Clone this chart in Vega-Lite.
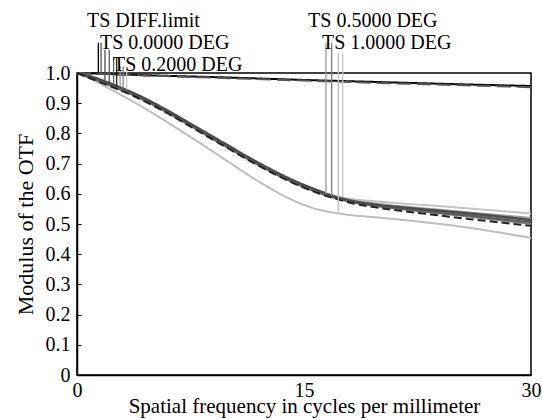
{
  "$schema": "https://vega.github.io/schema/vega-lite/v6.json",
  "width": 454,
  "height": 302,
  "autosize": "none",
  "padding": {"left": 77, "top": 73, "right": 11, "bottom": 44},
  "background": "white",
  "config": {
    "font": "Liberation Serif",
    "view": {"stroke": "#000", "strokeWidth": 1.5},
    "axis": {
      "grid": false,
      "domainColor": "#000",
      "domainWidth": 1.5,
      "labelFont": "Liberation Serif",
      "labelFontSize": 20,
      "labelColor": "#000",
      "titleFont": "Liberation Serif",
      "titleFontSize": 20,
      "titleFontWeight": "normal",
      "titleColor": "#000",
      "tickColor": "#000"
    }
  },
  "datasets": {
    "curves": [
      {"series": "diffT", "x": 0, "y": 1.0}, {"series": "diffT", "x": 5, "y": 0.992}, {"series": "diffT", "x": 10, "y": 0.985}, {"series": "diffT", "x": 15, "y": 0.977}, {"series": "diffT", "x": 20, "y": 0.970}, {"series": "diffT", "x": 25, "y": 0.963}, {"series": "diffT", "x": 30, "y": 0.957},
      {"series": "diffS", "x": 0, "y": 1.0}, {"series": "diffS", "x": 5, "y": 0.991}, {"series": "diffS", "x": 10, "y": 0.983}, {"series": "diffS", "x": 15, "y": 0.975}, {"series": "diffS", "x": 20, "y": 0.967}, {"series": "diffS", "x": 25, "y": 0.960}, {"series": "diffS", "x": 30, "y": 0.953},

      {"series": "s10T", "x": 0, "y": 1.0}, {"series": "s10T", "x": 1, "y": 0.978}, {"series": "s10T", "x": 2, "y": 0.952}, {"series": "s10T", "x": 3, "y": 0.925}, {"series": "s10T", "x": 4, "y": 0.897}, {"series": "s10T", "x": 5, "y": 0.867}, {"series": "s10T", "x": 6, "y": 0.836}, {"series": "s10T", "x": 8, "y": 0.772}, {"series": "s10T", "x": 10, "y": 0.706}, {"series": "s10T", "x": 12, "y": 0.641}, {"series": "s10T", "x": 14, "y": 0.585}, {"series": "s10T", "x": 16, "y": 0.547}, {"series": "s10T", "x": 17, "y": 0.537}, {"series": "s10T", "x": 18, "y": 0.530}, {"series": "s10T", "x": 20, "y": 0.521}, {"series": "s10T", "x": 22, "y": 0.511}, {"series": "s10T", "x": 24, "y": 0.500}, {"series": "s10T", "x": 26, "y": 0.487}, {"series": "s10T", "x": 28, "y": 0.471}, {"series": "s10T", "x": 30, "y": 0.454},

      {"series": "s10S", "x": 0, "y": 1.0}, {"series": "s10S", "x": 1, "y": 0.987}, {"series": "s10S", "x": 2, "y": 0.969}, {"series": "s10S", "x": 3, "y": 0.949}, {"series": "s10S", "x": 4, "y": 0.927}, {"series": "s10S", "x": 5, "y": 0.902}, {"series": "s10S", "x": 6, "y": 0.875}, {"series": "s10S", "x": 8, "y": 0.817}, {"series": "s10S", "x": 10, "y": 0.759}, {"series": "s10S", "x": 12, "y": 0.702}, {"series": "s10S", "x": 14, "y": 0.651}, {"series": "s10S", "x": 16, "y": 0.610}, {"series": "s10S", "x": 17, "y": 0.594}, {"series": "s10S", "x": 18, "y": 0.584}, {"series": "s10S", "x": 20, "y": 0.574}, {"series": "s10S", "x": 22, "y": 0.566}, {"series": "s10S", "x": 24, "y": 0.559}, {"series": "s10S", "x": 26, "y": 0.551}, {"series": "s10S", "x": 28, "y": 0.543}, {"series": "s10S", "x": 30, "y": 0.535},

      {"series": "s05T", "x": 0, "y": 1.0}, {"series": "s05T", "x": 1, "y": 0.986}, {"series": "s05T", "x": 2, "y": 0.968}, {"series": "s05T", "x": 3, "y": 0.948}, {"series": "s05T", "x": 4, "y": 0.926}, {"series": "s05T", "x": 5, "y": 0.901}, {"series": "s05T", "x": 6, "y": 0.874}, {"series": "s05T", "x": 8, "y": 0.816}, {"series": "s05T", "x": 10, "y": 0.758}, {"series": "s05T", "x": 12, "y": 0.701}, {"series": "s05T", "x": 14, "y": 0.650}, {"series": "s05T", "x": 16, "y": 0.609}, {"series": "s05T", "x": 17, "y": 0.592}, {"series": "s05T", "x": 18, "y": 0.580}, {"series": "s05T", "x": 20, "y": 0.566}, {"series": "s05T", "x": 22, "y": 0.556}, {"series": "s05T", "x": 24, "y": 0.547}, {"series": "s05T", "x": 26, "y": 0.538}, {"series": "s05T", "x": 28, "y": 0.529}, {"series": "s05T", "x": 30, "y": 0.520},

      {"series": "s05S", "x": 0, "y": 1.0}, {"series": "s05S", "x": 1, "y": 0.984}, {"series": "s05S", "x": 2, "y": 0.964}, {"series": "s05S", "x": 3, "y": 0.944}, {"series": "s05S", "x": 4, "y": 0.922}, {"series": "s05S", "x": 5, "y": 0.897}, {"series": "s05S", "x": 6, "y": 0.870}, {"series": "s05S", "x": 8, "y": 0.812}, {"series": "s05S", "x": 10, "y": 0.754}, {"series": "s05S", "x": 12, "y": 0.697}, {"series": "s05S", "x": 14, "y": 0.646}, {"series": "s05S", "x": 16, "y": 0.605}, {"series": "s05S", "x": 17, "y": 0.588}, {"series": "s05S", "x": 18, "y": 0.575}, {"series": "s05S", "x": 20, "y": 0.558}, {"series": "s05S", "x": 22, "y": 0.546}, {"series": "s05S", "x": 24, "y": 0.535}, {"series": "s05S", "x": 26, "y": 0.524}, {"series": "s05S", "x": 28, "y": 0.512}, {"series": "s05S", "x": 30, "y": 0.501},

      {"series": "s02T", "x": 0, "y": 1.0}, {"series": "s02T", "x": 1, "y": 0.982}, {"series": "s02T", "x": 2, "y": 0.962}, {"series": "s02T", "x": 3, "y": 0.942}, {"series": "s02T", "x": 4, "y": 0.920}, {"series": "s02T", "x": 5, "y": 0.895}, {"series": "s02T", "x": 6, "y": 0.868}, {"series": "s02T", "x": 8, "y": 0.810}, {"series": "s02T", "x": 10, "y": 0.752}, {"series": "s02T", "x": 12, "y": 0.695}, {"series": "s02T", "x": 14, "y": 0.644}, {"series": "s02T", "x": 16, "y": 0.603}, {"series": "s02T", "x": 17, "y": 0.587}, {"series": "s02T", "x": 18, "y": 0.575}, {"series": "s02T", "x": 20, "y": 0.559}, {"series": "s02T", "x": 22, "y": 0.549}, {"series": "s02T", "x": 24, "y": 0.540}, {"series": "s02T", "x": 26, "y": 0.531}, {"series": "s02T", "x": 28, "y": 0.522}, {"series": "s02T", "x": 30, "y": 0.512},

      {"series": "s00S", "x": 0, "y": 1.0}, {"series": "s00S", "x": 1, "y": 0.985}, {"series": "s00S", "x": 2, "y": 0.966}, {"series": "s00S", "x": 3, "y": 0.946}, {"series": "s00S", "x": 4, "y": 0.924}, {"series": "s00S", "x": 5, "y": 0.899}, {"series": "s00S", "x": 6, "y": 0.872}, {"series": "s00S", "x": 8, "y": 0.814}, {"series": "s00S", "x": 10, "y": 0.756}, {"series": "s00S", "x": 12, "y": 0.699}, {"series": "s00S", "x": 14, "y": 0.648}, {"series": "s00S", "x": 16, "y": 0.607}, {"series": "s00S", "x": 17, "y": 0.590}, {"series": "s00S", "x": 18, "y": 0.577}, {"series": "s00S", "x": 20, "y": 0.560}, {"series": "s00S", "x": 22, "y": 0.548}, {"series": "s00S", "x": 24, "y": 0.537}, {"series": "s00S", "x": 26, "y": 0.527}, {"series": "s00S", "x": 28, "y": 0.516}, {"series": "s00S", "x": 30, "y": 0.506},

      {"series": "s00T", "x": 0, "y": 1.0}, {"series": "s00T", "x": 1, "y": 0.988}, {"series": "s00T", "x": 2, "y": 0.970}, {"series": "s00T", "x": 3, "y": 0.950}, {"series": "s00T", "x": 4, "y": 0.928}, {"series": "s00T", "x": 5, "y": 0.903}, {"series": "s00T", "x": 6, "y": 0.876}, {"series": "s00T", "x": 8, "y": 0.818}, {"series": "s00T", "x": 10, "y": 0.760}, {"series": "s00T", "x": 12, "y": 0.703}, {"series": "s00T", "x": 14, "y": 0.652}, {"series": "s00T", "x": 16, "y": 0.610}, {"series": "s00T", "x": 17, "y": 0.592}, {"series": "s00T", "x": 18, "y": 0.579}, {"series": "s00T", "x": 20, "y": 0.563}, {"series": "s00T", "x": 22, "y": 0.553}, {"series": "s00T", "x": 24, "y": 0.544}, {"series": "s00T", "x": 26, "y": 0.535}, {"series": "s00T", "x": 28, "y": 0.525}, {"series": "s00T", "x": 30, "y": 0.514},

      {"series": "s02S", "x": 0, "y": 1.0}, {"series": "s02S", "x": 1, "y": 0.980}, {"series": "s02S", "x": 2, "y": 0.960}, {"series": "s02S", "x": 3, "y": 0.940}, {"series": "s02S", "x": 4, "y": 0.918}, {"series": "s02S", "x": 5, "y": 0.893}, {"series": "s02S", "x": 6, "y": 0.866}, {"series": "s02S", "x": 8, "y": 0.808}, {"series": "s02S", "x": 10, "y": 0.750}, {"series": "s02S", "x": 12, "y": 0.693}, {"series": "s02S", "x": 14, "y": 0.642}, {"series": "s02S", "x": 16, "y": 0.601}, {"series": "s02S", "x": 17, "y": 0.585}, {"series": "s02S", "x": 18, "y": 0.571}, {"series": "s02S", "x": 20, "y": 0.553}, {"series": "s02S", "x": 22, "y": 0.540}, {"series": "s02S", "x": 24, "y": 0.528}, {"series": "s02S", "x": 26, "y": 0.516}, {"series": "s02S", "x": 28, "y": 0.505}, {"series": "s02S", "x": 30, "y": 0.494}
    ],
    "leaders": [
      {"series": "diffT", "x": 1.41, "top": 1.100, "bottom": 0.998},
      {"series": "diffS", "x": 1.59, "top": 1.100, "bottom": 0.998},
      {"series": "s00T", "x": 1.85, "top": 1.077, "bottom": 0.976},
      {"series": "s00S", "x": 2.13, "top": 1.077, "bottom": 0.969},
      {"series": "s02T", "x": 2.42, "top": 1.051, "bottom": 0.960},
      {"series": "s02S", "x": 2.62, "top": 1.051, "bottom": 0.955},
      {"series": "s05T", "x": 2.85, "top": 1.022, "bottom": 0.955},
      {"series": "s05S", "x": 3.05, "top": 1.022, "bottom": 0.948},
      {"series": "s10S", "x": 3.28, "top": 1.022, "bottom": 0.945},
      {"series": "s05T", "x": 16.45, "top": 1.100, "bottom": 0.599},
      {"series": "s05S", "x": 16.83, "top": 1.100, "bottom": 0.593},
      {"series": "s10T", "x": 17.27, "top": 1.067, "bottom": 0.537},
      {"series": "s10S", "x": 17.56, "top": 1.067, "bottom": 0.590}
    ],
    "labels": [
      {"label": "TS DIFF.limit", "x": 0.66, "y": 1.153},
      {"label": "TS 0.0000 DEG", "x": 1.52, "y": 1.080},
      {"label": "TS 0.2000 DEG", "x": 2.38, "y": 1.008},
      {"label": "TS 0.5000 DEG", "x": 15.27, "y": 1.153},
      {"label": "TS 1.0000 DEG", "x": 16.19, "y": 1.080}
    ]
  },
  "layer": [
    {
      "data": {"name": "curves"},
      "mark": {"type": "line", "strokeWidth": 2, "interpolate": "monotone"},
      "encoding": {
        "x": {
          "field": "x", "type": "quantitative",
          "scale": {"domain": [0, 30], "nice": false, "zero": false},
          "axis": {"title": "Spatial frequency in cycles per millimeter", "titleFontSize": 21, "values": [0, 15, 30], "ticks": false, "labelPadding": 5, "titlePadding": -5, "labelFlush": false, "labelOverlap": false}
        },
        "y": {
          "field": "y", "type": "quantitative",
          "scale": {"domain": [0, 1], "nice": false, "clamp": false},
          "axis": {"title": "Modulus of the OTF", "titleFontSize": 22, "tickCount": 10, "format": ".1f", "labelExpr": "datum.value == 0 ? '0' : datum.label", "ticks": true, "tickSize": -4, "labelPadding": 11, "titlePadding": 8, "labelFlush": false, "labelOverlap": false, "labelBound": false}
        },
        "color": {
          "field": "series", "type": "nominal", "legend": null,
          "scale": {
            "domain": ["diffT", "diffS", "s00T", "s00S", "s02T", "s02S", "s05T", "s05S", "s10T", "s10S"],
            "range": ["#000000", "#555555", "#4a4a4a", "#5a5a5a", "#666666", "#222222", "#9a9a9a", "#808080", "#bdbdbd", "#c4c4c4"]
          }
        },
        "strokeDash": {
          "field": "series", "type": "nominal", "legend": null,
          "scale": {
            "domain": ["diffT", "diffS", "s00T", "s00S", "s02T", "s02S", "s05T", "s05S", "s10T", "s10S"],
            "range": [[1, 0], [14, 6], [1, 0], [1, 0], [1, 0], [8, 4], [1, 0], [1, 0], [1, 0], [1, 0]]
          }
        }
      }
    },
    {
      "data": {"name": "leaders"},
      "mark": {"type": "rule", "strokeWidth": 1.3, "clip": false},
      "encoding": {
        "x": {"field": "x", "type": "quantitative"},
        "y": {"field": "top", "type": "quantitative"},
        "y2": {"field": "bottom"},
        "color": {"field": "series", "type": "nominal", "legend": null}
      }
    },
    {
      "data": {"name": "labels"},
      "mark": {"type": "text", "align": "left", "baseline": "alphabetic", "fontSize": 20, "font": "Liberation Serif", "color": "#000", "clip": false},
      "encoding": {
        "x": {"field": "x", "type": "quantitative"},
        "y": {"field": "y", "type": "quantitative"},
        "text": {"field": "label"}
      }
    }
  ]
}
